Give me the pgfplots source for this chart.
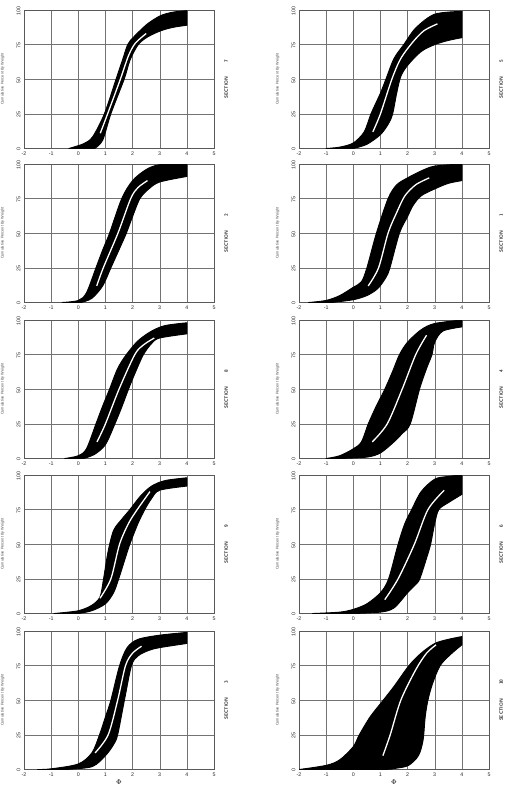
\documentclass[border=0pt]{standalone}
\usepackage{fontspec}
\setmainfont{Liberation Sans}
\usepackage{pgfplots}
\pgfplotsset{compat=1.18}
\usepgfplotslibrary{fillbetween}

\pgfplotsset{
  panel/.style={
    width=190pt, height=138.5pt, scale only axis,
    anchor=north west,
    xmin=-2, xmax=5, ymin=0, ymax=100,
    xtick={-2,...,5}, ytick={0,25,50,75,100},
    grid=major, grid style={black!55, line width=0.35pt},
    axis line style={black!65, line width=0.4pt},
    major tick length=0pt,
    tick label style={font=\fontsize{5.3}{6}\selectfont, text=black!85},
    /pgf/number format/assume math mode=true,
    yticklabel style={rotate=90, anchor=south, xshift=-1pt},
    ylabel={Cumulative Percent By Weight},
    ylabel style={font=\fontsize{3.8}{4.5}\selectfont, text=black!70,
      at={(axis description cs:-0.085,0.5)}, rotate=0, anchor=south},
    xlabel style={font=\fontsize{7}{8}\selectfont, yshift=4pt},
    clip mode=individual,
  },
}

% #1 left, #2 top, #3 section, #4 envelope (fine side), #5 envelope (coarse side), #6 median, #7 options
\newcommand{\panel}[7]{%
\begin{axis}[panel, at={(#1pt,-#2pt)}, #7]
\addplot[draw=none, name path=L#3, smooth] coordinates {#4};
\addplot[draw=none, name path=R#3, smooth] coordinates {#5};
\addplot[fill=black, draw=black, line width=0.9pt, line join=round] fill between[of=L#3 and R#3];
\addplot[white, line width=1.3pt, smooth] coordinates {#6};
\node[rotate=90, font=\sffamily\bfseries\fontsize{4.8}{5}\selectfont, text=black!85]
  at (rel axis cs:1.064,0.5) {SECTION\hspace{14pt}#3};
\end{axis}}

\begin{document}
\begin{tikzpicture}
% left column
\panel{24}{10}{7}
 {(-0.35,0) (0.2,3.5) (0.53,8.5) (0.96,25) (1.39,50) (1.63,64) (1.82,75) (2.04,80.5) (2.55,90) (3.04,96) (3.5,98.5) (4,99.5)}
 {(0.6,0) (0.9,6) (1.2,25) (1.69,50) (1.91,64) (2.21,75) (2.55,80.5) (3.04,85) (3.5,87.5) (4,89)}
 {(0.81,11) (1.08,25) (1.55,50) (1.85,67) (2.1,76) (2.5,83)}
 {}
\panel{24}{164}{2}
 {(-0.6,0) (0,1.5) (0.3,7) (0.65,25) (0.9,38) (1.15,50) (1.6,75) (2.0,88) (2.5,96) (3.0,99.5) (4,100)}
 {(0.1,0) (0.5,3) (0.9,12) (1.2,25) (1.5,38) (1.77,50) (2.0,62) (2.27,75) (2.6,82) (3,87) (4,91)}
 {(0.68,12) (0.92,25) (1.46,50) (1.93,75) (2.2,83) (2.55,88)}
 {}
\panel{24}{320}{8}
 {(-0.5,0) (0,2) (0.3,7) (0.65,25) (0.9,38) (1.15,50) (1.45,65) (1.77,75) (2.2,85) (2.7,92) (3.2,96) (4,98)}
 {(0.2,0) (0.6,3) (1.0,10) (1.35,25) (1.6,37) (1.85,50) (2.1,62) (2.4,75) (2.7,83) (3,87) (4,90)}
 {(0.69,12) (1.0,25) (1.5,50) (2.08,75) (2.4,82) (2.8,87)}
 {}
\panel{24}{475}{9}
 {(-0.9,0) (0,2) (0.5,6) (0.8,12) (0.93,25) (1.1,45) (1.3,60) (1.6,68) (1.9,75) (2.3,85) (2.7,92) (3.2,96) (4,98)}
 {(0,0) (0.5,2) (1.0,7) (1.3,15) (1.49,25) (1.7,38) (1.9,50) (2.2,65) (2.45,75) (2.7,83) (3,89) (4,92)}
 {(0.8,11) (1.2,25) (1.52,50) (1.85,65) (2.17,75) (2.64,88)}
 {}
\panel{24}{631}{3}
 {(-1.5,0) (-1,0.5) (0,4) (0.5,12) (0.78,25) (1.0,38) (1.2,50) (1.52,75) (1.8,88) (2.2,94) (3,97) (4,99)}
 {(-0.5,0) (0.5,2) (1.0,10) (1.3,18) (1.45,25) (1.7,50) (1.96,75) (2.2,82) (2.6,86) (3,88) (4,91)}
 {(0.62,12) (1.1,25) (1.45,50) (1.74,75) (2.0,84) (2.33,89)}
 {xlabel={$\Phi$}}
% right column
\panel{299}{10}{5}
 {(-1,0) (-0.5,1) (0,4) (0.4,12) (0.65,25) (1.0,40) (1.2,50) (1.5,65) (1.86,75) (2.3,87) (3,97) (4,99)}
 {(0,0) (0.5,3) (1.0,10) (1.3,18) (1.45,25) (1.6,40) (1.75,52) (2.0,60) (2.5,70) (3.0,75) (3.5,78) (4,80)}
 {(0.72,12) (1.0,25) (1.42,50) (1.75,65) (2.2,77) (2.6,85) (3.1,90)}
 {}
\panel{299}{164}{1}
 {(-1.65,0) (-1,1.5) (-0.5,5) (0,11) (0.3,15) (0.5,25) (0.85,50) (1.28,75) (1.6,85) (2.0,90) (2.5,95) (3,98.5) (4,100)}
 {(-0.8,0) (0,2) (0.5,5) (0.9,10) (1.2,18) (1.35,25) (1.7,50) (2.0,62) (2.2,70) (2.5,77) (3,82) (3.5,86) (4,88)}
 {(0.55,12) (0.93,25) (1.28,50) (1.6,65) (1.9,77) (2.3,85) (2.8,90)}
 {}
\panel{299}{320}{4}
 {(-1,0) (-0.5,2) (0,7) (0.3,12) (0.55,25) (0.85,38) (1.16,50) (1.45,63) (1.7,75) (2.0,84) (2.5,93) (3,97.5) (4,100)}
 {(-0.5,0) (0.5,1) (1,4) (1.5,12) (1.8,18) (2.1,25) (2.44,50) (2.7,65) (2.9,75) (3.0,84) (3.3,92) (4,95)}
 {(0.7,12) (1.25,25) (1.8,50) (2.3,75) (2.7,89)}
 {}
\panel{299}{475}{6}
 {(-1.5,0) (-0.5,1) (0,3) (0.5,7) (1.0,15) (1.3,25) (1.65,50) (1.9,65) (2.15,75) (2.5,88) (3,97) (3.5,99) (4,100)}
 {(0,0) (1,1) (1.5,4) (2,15) (2.3,21) (2.45,25) (2.7,40) (2.85,50) (3.0,65) (3.15,75) (3.5,80) (4,86)}
 {(1.16,10) (1.65,25) (2.25,50) (2.75,75) (3.35,89)}
 {}
\panel{299}{631}{10}
 {(-2,0) (-1,3) (-0.5,7) (0,16.5) (0.22,25) (0.62,38) (1.1,50) (1.5,60) (2.05,75) (2.5,84) (3,91) (3.5,94) (4,96)}
 {(-2,0) (1,0) (1.6,1) (2.04,3) (2.4,10) (2.57,21) (2.65,38) (2.75,50) (2.92,62) (3.2,75) (3.58,83) (4,90)}
 {(1.09,10) (1.36,25) (1.75,50) (2.3,72) (2.7,84) (3.05,90)}
 {xlabel={$\Phi$}}
\pgfresetboundingbox
\path (0pt,0pt) rectangle (506pt,-789pt);
\end{tikzpicture}
\end{document}
